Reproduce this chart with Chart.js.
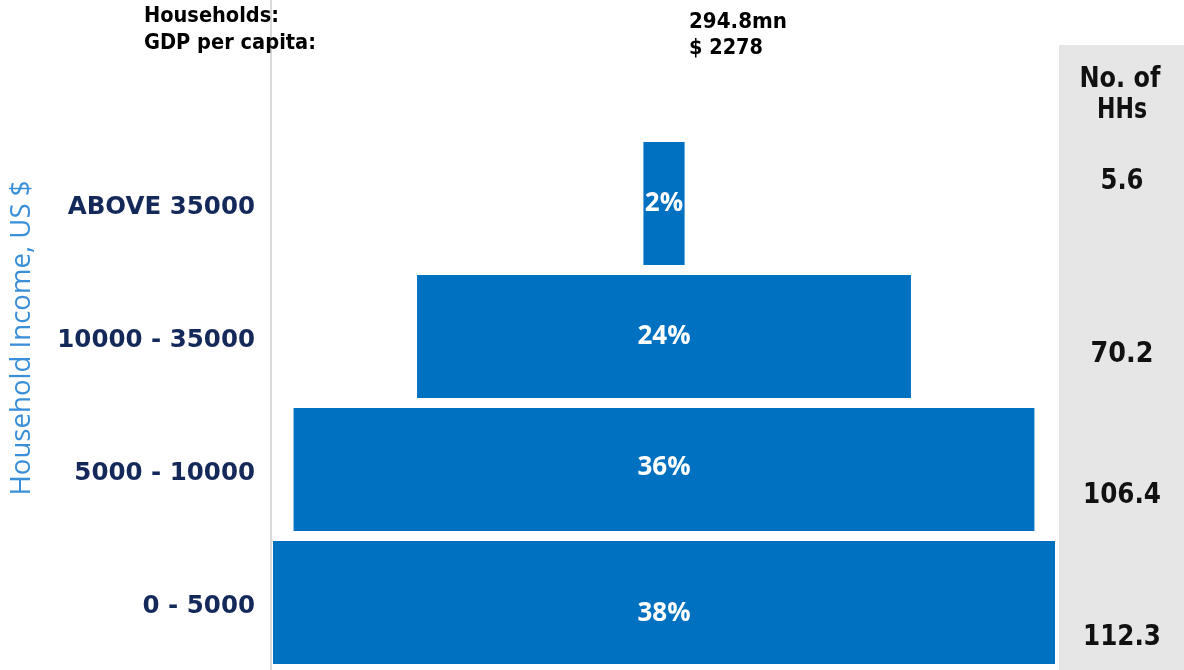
<!DOCTYPE html>
<html>
<head>
<meta charset="utf-8">
<script src="https://cdn.jsdelivr.net/npm/chart.js@4"></script>
<style>
  html, body { margin: 0; padding: 0; background: #fff; }
  #wrap { width: 1184px; height: 670px; position: relative; }
</style>
</head>
<body>
<div id="wrap"><canvas id="pyramid"></canvas></div>
<script>
// income bands, top of pyramid first
const incomeBands = ['ABOVE 35000', '10000 - 35000', '5000 - 10000', '0 - 5000'];
const shareOfHHs = [2, 24, 36, 38];               // % of households
const numHHs = ['5.6', '70.2', '106.4', '112.3']; // mn households
const households = '294.8mn';
const gdpPerCapita = '$ 2278';

// label nudges / widths, as in the original slide
const pctNudge = [0, 0, -2, 11];
const hhNudge = [-22, 18, 26, 35];
const hhWidth = [43, 63, 78, 78];

const BAR = '#0070c0';
const NAVY = '#14285a';
const SANS = '"DejaVu Sans", sans-serif';

// draw text squeezed horizontally to a given width (the slide font is condensed)
function fitText(ctx, str, x, y, size, width, align) {
  ctx.font = 'bold ' + size + 'px ' + SANS;
  const w = ctx.measureText(str).width;
  const sx = width / w;
  ctx.save();
  ctx.translate(x, y);
  ctx.scale(sx, 1);
  ctx.textAlign = align;
  ctx.fillText(str, 0, 0);
  ctx.restore();
}

const overlay = {
  id: 'overlay',
  beforeDraw(chart) {
    const ctx = chart.ctx;
    ctx.save();
    // grey column for no. of HHs
    ctx.fillStyle = '#e6e6e6';
    ctx.fillRect(1059, 45, 125, 625);
    // thin axis line on the left
    ctx.strokeStyle = '#d9d9d9';
    ctx.lineWidth = 2;
    ctx.beginPath();
    ctx.moveTo(271, 0);
    ctx.lineTo(271, 670);
    ctx.stroke();
    ctx.restore();
  },
  afterDatasetsDraw(chart) {
    const ctx = chart.ctx;
    const x = chart.scales.x, y = chart.scales.y;
    ctx.save();
    ctx.textBaseline = 'alphabetic';

    // header text
    ctx.fillStyle = '#000';
    fitText(ctx, 'Households:', 144, 22, 21, 135, 'left');
    fitText(ctx, 'GDP per capita:', 144, 49, 21, 172, 'left');
    fitText(ctx, households, 689, 28, 22, 98, 'left');
    fitText(ctx, gdpPerCapita, 689, 54, 22, 74, 'left');

    // y title
    ctx.save();
    ctx.translate(30, 338);
    ctx.rotate(-Math.PI / 2);
    ctx.fillStyle = '#3a8fd8';
    ctx.font = '28px "Open Sans", sans-serif';
    const tw = ctx.measureText('Household Income, US $').width;
    ctx.scale(315 / tw, 1);
    ctx.textAlign = 'center';
    ctx.fillText('Household Income, US $', 0, 0);
    ctx.restore();

    // percentages inside the bars
    ctx.textAlign = 'center';
    ctx.textBaseline = 'middle';
    ctx.fillStyle = '#fff';
    ctx.font = 'bold 26px "Open Sans", sans-serif';
    shareOfHHs.forEach((p, i) => {
      ctx.fillText(p + '%', x.getPixelForValue(0), y.getPixelForValue(i) + pctNudge[i]);
    });

    // no. of HHs column
    ctx.fillStyle = '#111';
    ctx.textBaseline = 'alphabetic';
    fitText(ctx, 'No. of', 1120, 87, 28, 81, 'center');
    fitText(ctx, 'HHs', 1122, 118, 28, 50, 'center');
    ctx.textBaseline = 'middle';
    numHHs.forEach((v, i) => {
      fitText(ctx, v, 1122, y.getPixelForValue(i) + hhNudge[i], 28, hhWidth[i], 'center');
    });
    ctx.restore();
  }
};

new Chart(document.getElementById('pyramid'), {
  type: 'bar',
  data: {
    labels: incomeBands,
    datasets: [{
      data: shareOfHHs.map(p => [-p / 2, p / 2]),
      backgroundColor: BAR,
      borderWidth: 0,
      barPercentage: 0.925,
      categoryPercentage: 1
    }]
  },
  options: {
    indexAxis: 'y',
    responsive: true,
    maintainAspectRatio: false,
    animation: false,
    layout: { padding: { left: 0, right: 129, top: 137, bottom: 1 } },
    plugins: { legend: { display: false }, tooltip: { enabled: false } },
    scales: {
      x: { display: false, min: -19, max: 19 },
      y: {
        grid: { display: false },
        border: { display: false },
        afterFit(s) {
          s.width = 273;
          s.paddingTop = 0;
          s.paddingBottom = 0;
        },
        ticks: {
          padding: 10,
          labelOffset: 4,
          color: NAVY,
          font: { family: SANS, size: 24.5, weight: 'bold' }
        }
      }
    }
  },
  plugins: [overlay]
});
</script>
</body>
</html>
